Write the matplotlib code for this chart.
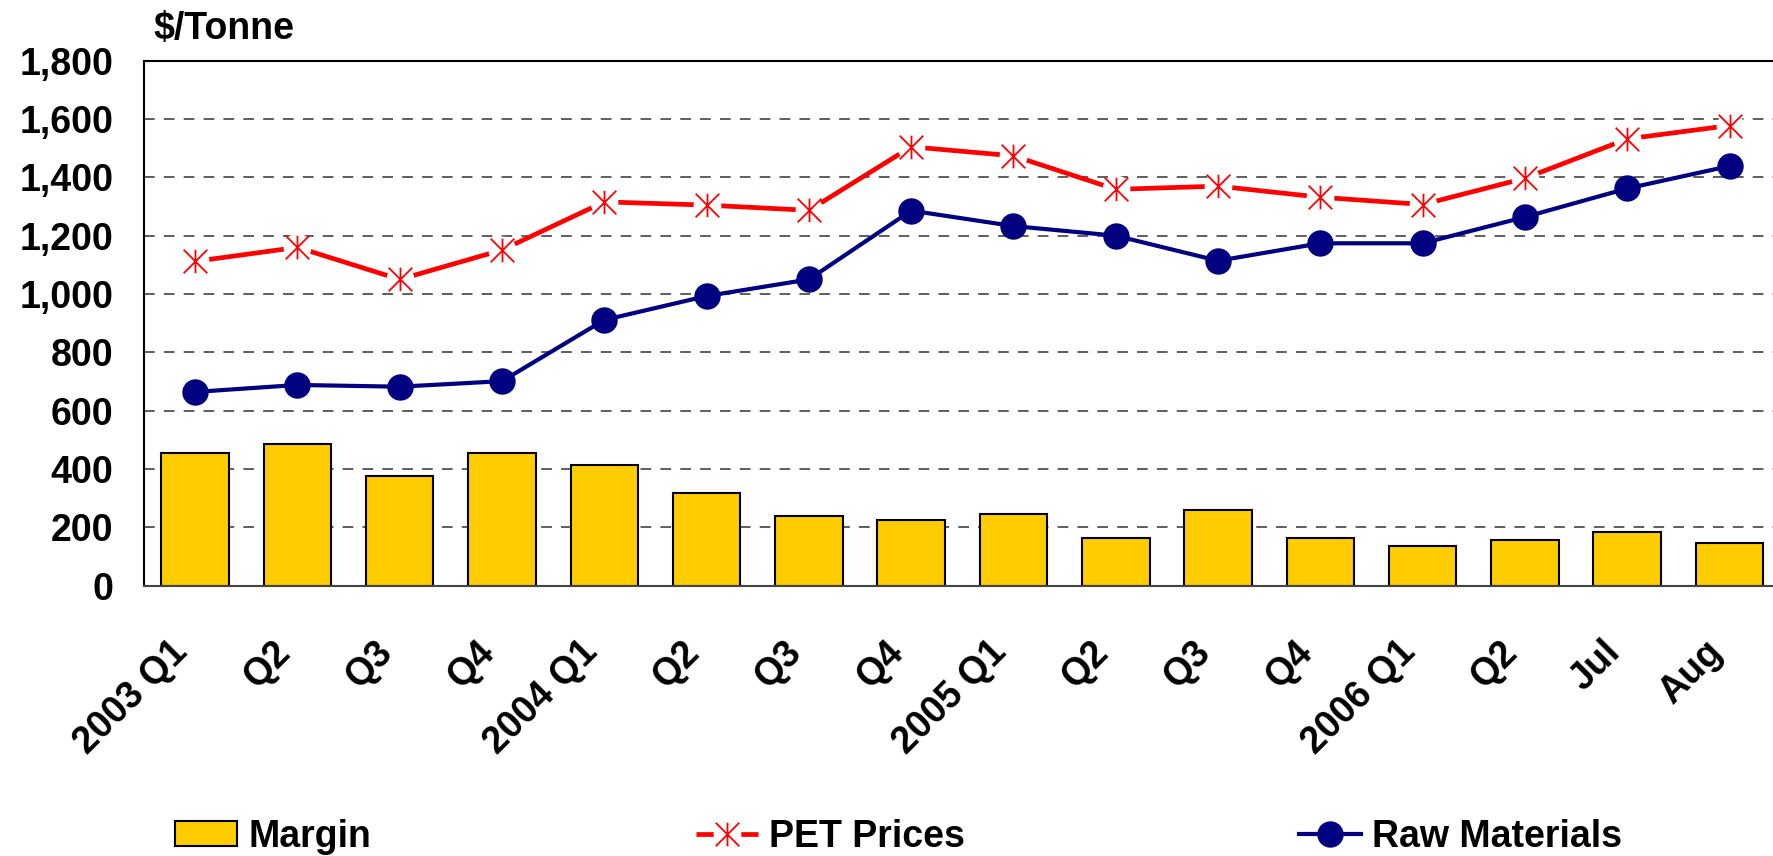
"""PET prices, raw material costs and margin, 2003-2006."""

import matplotlib
matplotlib.use('Agg')
import matplotlib.pyplot as plt
from matplotlib.lines import Line2D
from matplotlib.patches import Patch
from matplotlib.path import Path
from matplotlib.ticker import FixedLocator, FuncFormatter


categories = ['2003 Q1', 'Q2', 'Q3', 'Q4', '2004 Q1', 'Q2', 'Q3', 'Q4',
              '2005 Q1', 'Q2', 'Q3', 'Q4', '2006 Q1', 'Q2', 'Jul', 'Aug']
margin = [453, 486, 375, 453, 415, 317, 240, 226,
          246, 162, 259, 162, 137, 155, 182, 145]
pet_prices = [1112, 1160, 1050, 1151, 1316, 1305, 1287, 1505,
              1474, 1359, 1370, 1332, 1307, 1397, 1532, 1578]
raw_materials = [664, 688, 682, 701, 911, 993, 1050, 1286,
                 1233, 1200, 1114, 1174, 1174, 1264, 1362, 1439]
y_ticks = [0, 200, 400, 600, 800, 1000, 1200, 1400, 1600, 1800]

YELLOW = '#FFCC00'
RED = '#FF0000'
NAVY = '#000080'
FS = 27

plt.rcParams['font.family'] = ['Liberation Sans', 'DejaVu Sans']
plt.rcParams['font.weight'] = 'bold'

# Excel style asterisk: vertical bar plus an X
star = Path([(0, -1), (0, 1), (-1, -1), (1, 1), (-1, 1), (1, -1)],
            [Path.MOVETO, Path.LINETO] * 3)

fig = plt.figure(figsize=(17.74, 8.56), dpi=100)
ax = fig.add_axes([144 / 1774, 1 - 585.5 / 856, 1 - 144 / 1774,
                   (585.5 - 60.8) / 856])

x = list(range(len(categories)))
ax.bar(x, margin, width=0.66, color=YELLOW, edgecolor='black',
       linewidth=1.5, zorder=2)

pet_kw = dict(color=RED, lw=3.4, solid_capstyle='butt')
gap_kw = dict(ls='none', marker='o', ms=19, mfc='white', mec='white')
star_kw = dict(ls='none', marker=star, ms=17, mec=RED, mew=1.3, color=RED)
ax.plot(x, pet_prices, zorder=3, **pet_kw)
ax.plot(x, pet_prices, zorder=4, **gap_kw)
ax.plot(x, pet_prices, zorder=5, **star_kw)

raw_kw = dict(color=NAVY, lw=3, marker='o', ms=18, mfc=NAVY, mec=NAVY)
ax.plot(x, raw_materials, zorder=6, **raw_kw)

ax.set_xlim(-0.5, 15.435)
ax.set_ylim(0, 1800)
ax.yaxis.set_major_locator(FixedLocator(y_ticks))
ax.yaxis.set_major_formatter(FuncFormatter(lambda v, p: f'{int(v):,}'))
ax.set_xticks(x)
ax.set_xticklabels(categories, rotation=45, ha='right', va='top')
ax.tick_params(axis='both', length=0, labelsize=FS)
ax.tick_params(axis='y', pad=22)
ax.tick_params(axis='x', pad=35)

for v in y_ticks[1:-1]:
    ax.axhline(v, color='#333333', lw=1.1, dashes=(7, 6), zorder=1)

for side in ('left', 'top'):
    ax.spines[side].set_linewidth(1.5)
ax.spines['bottom'].set_color('#444444')
ax.spines['bottom'].set_linewidth(1.5)
ax.spines['right'].set_visible(False)

fig.text(153 / 1774, 1 - 29 / 856, '$/Tonne', fontsize=FS, ha='left',
         va='center')

# three single entry legends, placed where the reference has them
entries = [
    (Patch(facecolor=YELLOW, edgecolor='black', lw=1.5), 'Margin', 175),
    ((Line2D([], [], **pet_kw), Line2D([], [], **gap_kw),
      Line2D([], [], **star_kw)), 'PET Prices', 696),
    (Line2D([], [], **raw_kw), 'Raw Materials', 1299),
]
for handle, label, px in entries:
    fig.legend([handle], [label], loc='center left',
               bbox_to_anchor=(px / 1774, 1 - 837 / 856), frameon=False,
               fontsize=FS, borderpad=0, borderaxespad=0, handlelength=1.65,
               handleheight=0.65, handletextpad=0.3)

plt.savefig('out.png', dpi=100)
